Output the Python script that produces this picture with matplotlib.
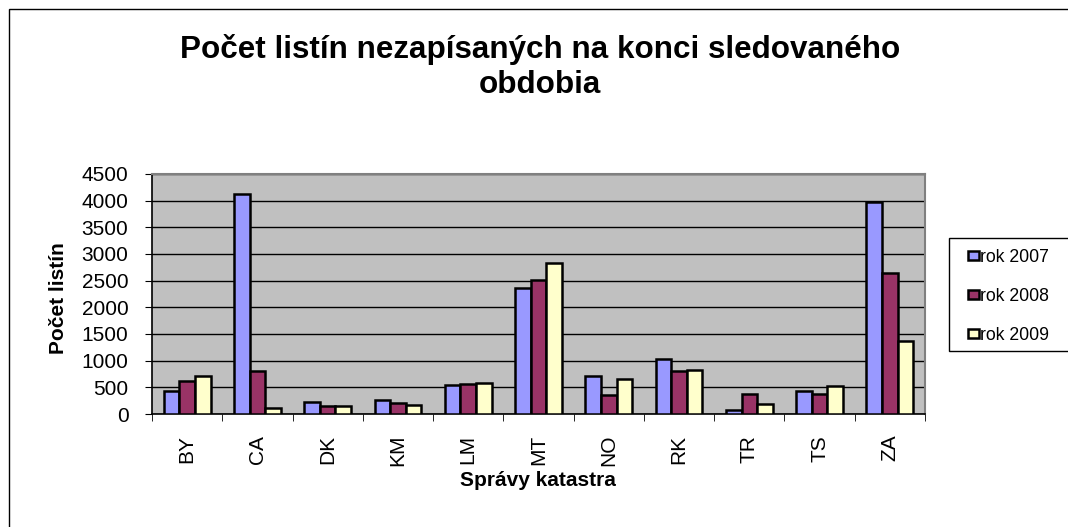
import matplotlib
matplotlib.use("Agg")
import matplotlib.pyplot as plt
import numpy as np
from matplotlib.patches import Rectangle

categories = ["BY", "CA", "DK", "KM", "LM", "MT", "NO", "RK", "TR", "TS", "ZA"]
rok_2007 = [424, 4125, 231, 268, 543, 2359, 718, 1030, 81, 424, 3981]
rok_2008 = [624, 811, 144, 212, 555, 2508, 349, 799, 374, 368, 2640]
rok_2009 = [718, 112, 156, 175, 574, 2827, 655, 824, 187, 530, 1360]
series_names = ["rok 2007", "rok 2008", "rok 2009"]
colors = ["#9999FF", "#993366", "#FFFFCC"]
yticks = [0, 500, 1000, 1500, 2000, 2500, 3000, 3500, 4000, 4500]

plt.rcParams['font.family'] = ['Liberation Sans', 'DejaVu Sans']

W, H = 1068, 527
fig = plt.figure(figsize=(W / 100, H / 100), dpi=100)
fig.patch.set_facecolor("white")

# outer chart frame
fig.add_artist(Rectangle((9 / W, -0.05), 1.1, 1 - 9 / H + 0.05, transform=fig.transFigure,
                         fill=False, edgecolor="black", linewidth=1.0))

left, right, top, bottom = 152, 925, 174, 414
ax = fig.add_axes([left / W, 1 - bottom / H, (right - left) / W, (bottom - top) / H])
ax.set_facecolor("#C0C0C0")

x = np.arange(len(categories))
w = 1 / 4.5
for i, (vals, c, n) in enumerate(zip([rok_2007, rok_2008, rok_2009], colors, series_names)):
    ax.bar(x + (i - 1) * w, vals, width=w, color=c, edgecolor="black", linewidth=1.8,
           label=n, zorder=3)

ax.set_xlim(-0.5, len(categories) - 0.5)
ax.set_ylim(0, 4500)
ax.set_yticks(yticks)
ax.set_yticklabels([str(t) for t in yticks], fontsize=15)
ax.yaxis.grid(True, color="black", linewidth=1.0, zorder=0)
ax.set_axisbelow(True)

ax.set_xticks(x)
ax.set_xticklabels(categories, rotation=90, fontsize=15)
ax.tick_params(axis="x", length=0, pad=15)
ax.set_xticks(np.arange(-0.5, len(categories) + 0.5, 1), minor=True)
ax.tick_params(axis="x", which="minor", length=5, direction="out", color="black")
ax.tick_params(axis="y", length=5, direction="out", color="black", pad=12)

for s in ["top", "right"]:
    ax.spines[s].set_color("#808080")
    ax.spines[s].set_linewidth(1.5)
for s in ["left", "bottom"]:
    ax.spines[s].set_color("black")
    ax.spines[s].set_linewidth(1.2)

fig.text(59 / W, 1 - 298 / H, "Počet listín", rotation=90, ha="center", va="center",
         fontsize=15, fontweight="bold")
fig.text(538 / W, 1 - 481 / H, "Správy katastra", ha="center", va="center",
         fontsize=15, fontweight="bold")

fig.text(540 / W, 1 - 58 / H, "Počet listín nezapísaných na konci sledovaného",
         ha="center", va="baseline", fontsize=22.6, fontweight="bold")
fig.text(540 / W, 1 - 93 / H, "obdobia",
         ha="center", va="baseline", fontsize=22.6, fontweight="bold")

# legend
fig.add_artist(Rectangle((949 / W, 1 - 351 / H), 0.2, (351 - 238) / H, transform=fig.transFigure,
                         facecolor="white", edgecolor="black", linewidth=1.0))
handles, labels = ax.get_legend_handles_labels()
leg = fig.legend(handles, labels, loc="upper left", bbox_to_anchor=(954 / W, 1 - 235 / H),
                 frameon=False, fontsize=12.7, handlelength=0.6, handleheight=0.4,
                 handletextpad=0.05, labelspacing=1.25, borderpad=0.3)

fig.savefig("out.png", dpi=100)
